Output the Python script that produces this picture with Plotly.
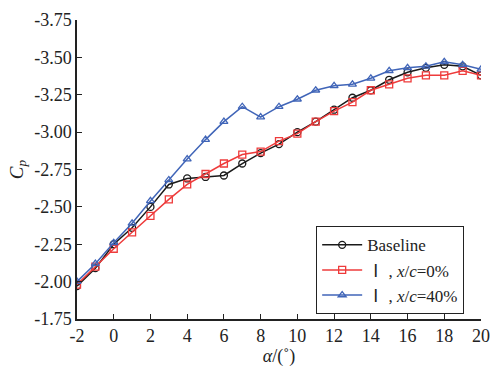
import plotly.graph_objects as go

alpha = list(range(-2, 21))
baseline = [-1.97, -2.09, -2.25, -2.36, -2.50, -2.65, -2.69, -2.70, -2.71, -2.79, -2.86,
            -2.92, -3.00, -3.07, -3.15, -3.23, -3.28, -3.35, -3.40, -3.43, -3.45, -3.44, -3.38]
case_0 = [-1.98, -2.10, -2.22, -2.33, -2.44, -2.55, -2.65, -2.72, -2.79, -2.85, -2.87,
          -2.94, -2.99, -3.07, -3.14, -3.20, -3.28, -3.32, -3.36, -3.38, -3.38, -3.41, -3.38]
case_40 = [-2.00, -2.12, -2.26, -2.39, -2.54, -2.68, -2.82, -2.95, -3.07, -3.17, -3.10,
           -3.17, -3.22, -3.28, -3.31, -3.32, -3.36, -3.41, -3.43, -3.44, -3.47, -3.45, -3.42]

x_ticks = list(range(-2, 21, 2))
x_ticklabels = ["-2", "0", "2", "4", "6", "8", "10", "12", "14", "16", "18", "20"]
y_ticks = [-1.75, -2.00, -2.25, -2.50, -2.75, -3.00, -3.25, -3.50, -3.75]
y_ticklabels = ["-1.75", "-2.00", "-2.25", "-2.50", "-2.75", "-3.00", "-3.25", "-3.50", "-3.75"]

FONT = "Liberation Serif, Times New Roman, serif"
ROMAN = '<span style="font-family:Noto Sans CJK SC">Ⅰ</span>'

fig = go.Figure()
series = [
    ("Baseline", baseline, "#1a1a1a", "circle-open"),
    (ROMAN + " , <i>x</i>/<i>c</i>=0%", case_0, "#ee3b3b", "square-open"),
    (ROMAN + " , <i>x</i>/<i>c</i>=40%", case_40, "#4065b8", "triangle-up-open"),
]
for name, ys, color, sym in series:
    fig.add_trace(go.Scatter(
        x=alpha, y=ys, name=name, mode="lines+markers",
        line=dict(color=color, width=1.5),
        marker=dict(symbol=sym, size=7, color=color, line=dict(width=1.3, color=color)),
    ))

fig.update_layout(
    width=500, height=369,
    margin=dict(l=77, r=10, t=15, b=48),
    paper_bgcolor="white", plot_bgcolor="white",
    font=dict(family=FONT, size=18, color="#222"),
    legend=dict(
        x=0.592, y=0.163, xanchor="left", yanchor="middle",
        bordercolor="#222", borderwidth=1, bgcolor="white",
        font=dict(family=FONT, size=17, color="#222"),
        tracegroupgap=0, itemwidth=40,
    ),
    xaxis=dict(
        range=[-2, 20], tickvals=x_ticks, ticktext=x_ticklabels,
        tickfont=dict(family=FONT, size=18, color="#222"),
        showgrid=False, zeroline=False, showline=True, linecolor="#222", linewidth=1.5,
        ticks="inside", ticklen=5, tickwidth=1.2, tickcolor="#222",
        title=dict(text="<i>α</i>/(˚)", font=dict(family=FONT, size=18), standoff=0),
    ),
    yaxis=dict(
        range=[-1.75, -3.75], tickvals=y_ticks, ticktext=y_ticklabels,
        tickfont=dict(family=FONT, size=18, color="#222"),
        showgrid=False, zeroline=False, showline=True, linecolor="#222", linewidth=1.5,
        ticks="inside", ticklen=5, tickwidth=1.2, tickcolor="#222",
        title=dict(text="<i>C</i><sub><i>p</i></sub>", font=dict(family=FONT, size=19), standoff=6),
    ),
)

fig.write_html("out.html")
